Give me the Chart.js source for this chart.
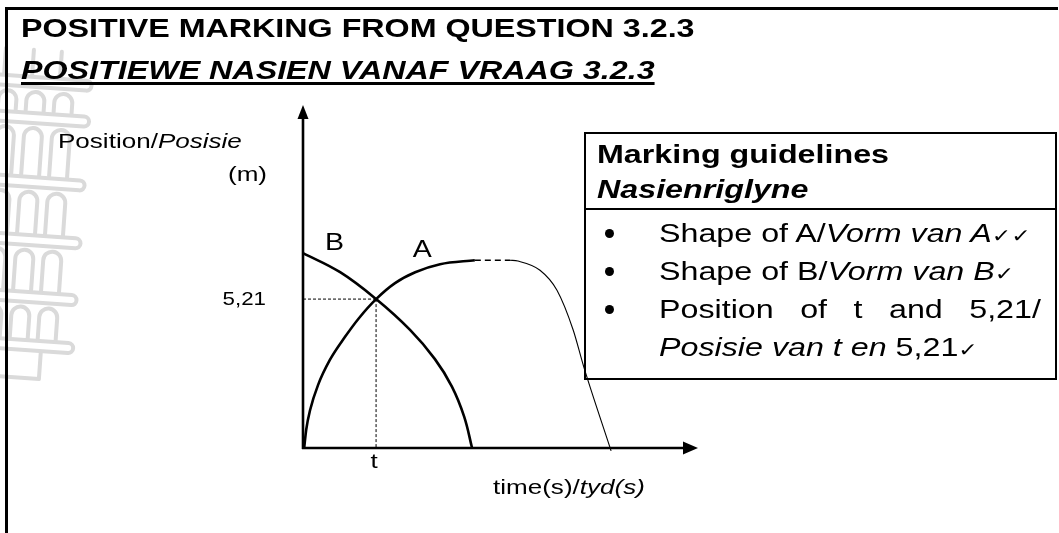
<!DOCTYPE html>
<html>
<head>
<meta charset="utf-8">
<script src="https://cdn.jsdelivr.net/npm/chart.js@4.4.1/dist/chart.umd.min.js"></script>
<style>
  body { margin: 0; background: #fff; }
  #page {
    position: relative; width: 1059px; height: 533px; overflow: hidden;
    font-family: "Liberation Sans", Arial, Helvetica, sans-serif; color: #000;
  }
  canvas { position: absolute; left: 0; top: 0; }
  .t {
    position: absolute; line-height: 1; white-space: nowrap;
    transform: scaleX(1.24); transform-origin: 0 0;
  }
  .chk { font-family: "DejaVu Sans", sans-serif; font-size: 0.72em; }
  .box { position: absolute; border: 2px solid #000; box-sizing: border-box; }
  .rule { position: absolute; background: #000; }
  .dot { position: absolute; width: 9px; height: 9px; border-radius: 50%; background: #000; }
</style>
</head>
<body>
<div id="page">
  <canvas id="graph" width="1059" height="533"></canvas>
  <div class="box" style="left:584px;top:132px;width:473px;height:248px"></div>
  <div class="rule" style="left:584px;top:208px;width:473px;height:2px"></div>
</div>
<script>
// curve A (rising part)
const A_X = [0.03, 0.08, 0.18, 0.38, 0.68, 1.06, 1.42, 1.85, 2.33, 2.84, 3.47, 4.35];
const A_Y = [0, 0.63, 1.33, 2.2, 3.08, 3.88, 4.55, 5.21, 5.77, 6.15, 6.43, 6.57];
// dashed flat bit after A
const PLATEAU_X = [4.35, 5.24];
const PLATEAU_Y = [6.57, 6.57];
// thin falling part
const DROP_X = [5.24, 5.44, 6.0, 6.43, 6.84, 7.11, 7.8];
const DROP_Y = [6.57, 6.54, 6.22, 5.52, 4.13, 2.83, -0.1];
// curve B
const B_X = [0, 0.94, 1.85, 2.71, 3.34, 3.77, 4.08, 4.28];
const B_Y = [6.82, 6.15, 5.21, 4.13, 3.11, 2.15, 1.1, 0];
// where they cross
const T_VALUE = 1.85;
const POS_VALUE = 5.21;
const TICK_LABELS = ["t", "5,21"];
const CURVE_NAMES = ["A", "B"];
const X_MAX = 10;
const Y_MAX = 12;

const pts = (xs, ys) => xs.map((x, i) => ({ x: x, y: ys[i] }));

const page = document.getElementById("page");
function place(html, x, base, size, extra) {
  const d = document.createElement("div");
  d.className = "t";
  d.innerHTML = html;
  d.style.left = x + "px";
  d.style.top = (base - 0.8465 * size) + "px";
  d.style.fontSize = size + "px";
  if (extra) Object.assign(d.style, extra);
  page.appendChild(d);
  return d;
}

// headings
place("<b>POSITIVE MARKING FROM QUESTION 3.2.3</b>", 21, 37, 26);
place("<b><i>POSITIEWE NASIEN VANAF VRAAG 3.2.3</i></b>", 21, 79, 26, {
  textDecoration: "underline", textDecorationThickness: "3px", textUnderlineOffset: "3px"
});
// axis titles
place("Position/<i>Posisie</i>", 58, 148, 21);
place("(m)", 228, 181, 21);
place("time(s)/<i>tyd(s)</i>", 493, 494, 21);

// marking guideline box
place("<b>Marking guidelines</b>", 597, 163, 26);
place("<b><i>Nasienriglyne</i></b>", 597, 198, 26);
const CHK = '<span class="chk">\u2713</span>';
place("Shape of A/<i>Vorm van A</i>" + CHK + CHK, 659, 242, 26);
place("Shape of B/<i>Vorm van B</i>" + CHK, 659, 280, 26);
place("Position of t and 5,21/", 659, 318, 26, {
  width: "308px", whiteSpace: "normal", textAlign: "justify", textAlignLast: "justify"
});
place("<i>Posisie van t en</i> 5,21" + CHK, 659, 356, 26);
[233, 271, 309].forEach((y) => {
  const d = document.createElement("div");
  d.className = "dot";
  d.style.left = "605px";
  d.style.top = (y - 4.5) + "px";
  page.appendChild(d);
});

function arrow(ctx, x, y, dir) {
  ctx.beginPath();
  if (dir === "up") {
    ctx.moveTo(x, y); ctx.lineTo(x - 5.5, y + 14); ctx.lineTo(x + 5.5, y + 14);
  } else {
    ctx.moveTo(x, y); ctx.lineTo(x - 15, y - 6.5); ctx.lineTo(x - 15, y + 6.5);
  }
  ctx.closePath();
  ctx.fill();
}

const decor = {
  id: "decor",
  beforeDraw(chart) {
    const ctx = chart.ctx;
    ctx.save();
    // faint tower watermark
    ctx.strokeStyle = "#dadada";
    ctx.lineWidth = 4;
    ctx.lineJoin = "round";
    ctx.lineCap = "round";
    ctx.translate(30, 220);
    ctx.rotate(0.07);
    const bands = [-138, -102, -38, 20, 77, 125];
    bands.forEach((y) => {
      ctx.beginPath();
      ctx.roundRect(-52, y - 5, 104, 10, 5);
      ctx.stroke();
    });
    for (let i = 0; i < bands.length - 1; i++) {
      const top = bands[i] + 10, bot = bands[i + 1] - 7;
      [-40, -12, 16].forEach((x) => {
        ctx.beginPath();
        ctx.moveTo(x, bot);
        ctx.lineTo(x, top + 9);
        ctx.arc(x + 9, top + 9, 9, Math.PI, 0);
        ctx.lineTo(x + 18, bot);
        ctx.stroke();
      });
    }
    [-36, -8, 20].forEach((x) => {
      ctx.beginPath();
      ctx.moveTo(x, -145); ctx.lineTo(x, -170);
      ctx.stroke();
    });
    ctx.beginPath();
    ctx.moveTo(-40, 132); ctx.lineTo(-40, 158); ctx.lineTo(20, 158); ctx.lineTo(20, 132);
    ctx.stroke();
    ctx.restore();

    // page frame
    ctx.save();
    ctx.fillStyle = "#000";
    ctx.fillRect(5, 7, 1053, 3);
    ctx.fillRect(5, 7, 3, 526);
    ctx.restore();
  },
  afterDatasetsDraw(chart) {
    const ctx = chart.ctx;
    const xs = chart.scales.x, ys = chart.scales.y;
    const x0 = xs.getPixelForValue(0), y0 = ys.getPixelForValue(0);
    const xEnd = xs.getPixelForValue(X_MAX), yEnd = ys.getPixelForValue(Y_MAX);
    ctx.save();
    ctx.strokeStyle = "#000";
    ctx.fillStyle = "#000";
    ctx.lineWidth = 2.6;
    ctx.beginPath();
    ctx.moveTo(x0, y0 + 1); ctx.lineTo(x0, yEnd + 10);
    ctx.moveTo(x0 - 1, y0); ctx.lineTo(xEnd - 10, y0);
    ctx.stroke();
    arrow(ctx, x0, yEnd, "up");
    arrow(ctx, xEnd, y0, "right");

    // labels tied to the data
    const stretch = (txt, x, y, size, align) => {
      ctx.save();
      ctx.font = size + 'px "Liberation Sans", Arial, sans-serif';
      ctx.textBaseline = "alphabetic";
      const w = ctx.measureText(txt).width * 1.24;
      let left = x;
      if (align === "right") left = x - w;
      if (align === "center") left = x - w / 2;
      ctx.translate(left, y);
      ctx.scale(1.24, 1);
      ctx.fillText(txt, 0, 0);
      ctx.restore();
    };
    stretch(TICK_LABELS[1], x0 - 37, ys.getPixelForValue(POS_VALUE) + 6, 18, "right");
    stretch(TICK_LABELS[0], xs.getPixelForValue(T_VALUE) - 2, y0 + 20, 21, "center");
    stretch(CURVE_NAMES[1], xs.getPixelForValue(0.56), ys.getPixelForValue(6.92), 23, "left");
    stretch(CURVE_NAMES[0], xs.getPixelForValue(2.78), ys.getPixelForValue(6.68), 23, "left");
    ctx.restore();
  }
};

const line = (data, width, extra) => Object.assign({
  data: data,
  showLine: true,
  borderColor: "#000",
  borderWidth: width,
  pointRadius: 0,
  fill: false,
  clip: false,
  cubicInterpolationMode: "monotone"
}, extra || {});

new Chart(document.getElementById("graph").getContext("2d"), {
  type: "scatter",
  data: {
    datasets: [
      line(pts(A_X, A_Y), 2.6),
      line(pts(PLATEAU_X, PLATEAU_Y), 1.4, { borderDash: [6, 4] }),
      line(pts(DROP_X, DROP_Y), 1.1),
      line(pts(B_X, B_Y), 2.6, { cubicInterpolationMode: "default", tension: 0.4 }),
      line([{ x: 0, y: POS_VALUE }, { x: T_VALUE, y: POS_VALUE }], 1, { borderDash: [3, 2], cubicInterpolationMode: "default", tension: 0 }),
      line([{ x: T_VALUE, y: POS_VALUE }, { x: T_VALUE, y: 0 }], 1, { borderDash: [3, 2], cubicInterpolationMode: "default", tension: 0 })
    ]
  },
  options: {
    responsive: false,
    animation: false,
    devicePixelRatio: 1,
    layout: { padding: { left: 303, right: 361, top: 105, bottom: 85 } },
    plugins: { legend: { display: false }, tooltip: { enabled: false } },
    scales: {
      x: { type: "linear", min: 0, max: X_MAX, display: false },
      y: { type: "linear", min: 0, max: Y_MAX, display: false }
    }
  },
  plugins: [decor]
});
</script>
</body>
</html>
